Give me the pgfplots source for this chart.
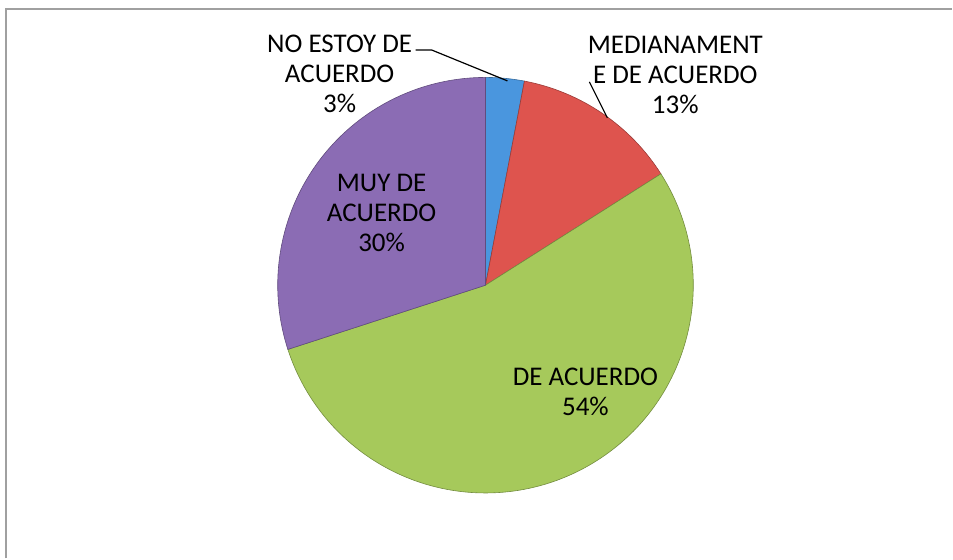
\documentclass[border=0pt]{standalone}
\usepackage{pgfplots}
\usepackage{pgfplotstable}
\pgfplotsset{compat=1.18}
\usepackage{fontspec}
\setmainfont{Carlito}
\pgfkeys{/pgf/number format/assume math mode=true}
\definecolor{cBlue}{RGB}{74,150,222}
\definecolor{cRed}{RGB}{222,84,78}
\definecolor{cGreen}{RGB}{166,201,91}
\definecolor{cPurple}{RGB}{139,108,180}
\definecolor{frame}{RGB}{160,160,160}
\pgfplotstableread{
label value
NoEstoy 3
Medianamente 13
DeAcuerdo 54
Muy 30
}\piedata
\pgfplotstablegetelem{0}{value}\of\piedata \pgfmathsetmacro{\vA}{\pgfplotsretval}
\pgfplotstablegetelem{1}{value}\of\piedata \pgfmathsetmacro{\vB}{\pgfplotsretval}
\pgfplotstablegetelem{2}{value}\of\piedata \pgfmathsetmacro{\vC}{\pgfplotsretval}
\pgfplotstablegetelem{3}{value}\of\piedata \pgfmathsetmacro{\vD}{\pgfplotsretval}
\pgfmathsetmacro{\aA}{90}
\pgfmathsetmacro{\aB}{\aA-3.6*\vA}
\pgfmathsetmacro{\aC}{\aB-3.6*\vB}
\pgfmathsetmacro{\aD}{\aC-3.6*\vC}
\pgfmathsetmacro{\aE}{\aD-3.6*\vD}
\begin{document}
\begin{tikzpicture}
\begin{axis}[
  at={(0,0)}, anchor=origin,
  width=953bp, height=559bp, scale only axis,
  xmin=0, xmax=953, ymin=0, ymax=559,
  hide axis, clip=false,
]
\path (axis cs:0,0) rectangle (axis cs:953,559);
% frame
\draw[frame, line width=2bp] (axis cs:6,0) -- (axis cs:6,550) -- (axis cs:953,550);
% slices
\fill[cBlue, draw=cBlue!70!black, line width=0.6bp] (axis cs:486,273.5) -- ++(\aA:208bp) arc[start angle=\aA, end angle=\aB, radius=208bp] -- cycle;
\fill[cRed, draw=cRed!70!black, line width=0.6bp] (axis cs:486,273.5) -- ++(\aB:208bp) arc[start angle=\aB, end angle=\aC, radius=208bp] -- cycle;
\fill[cGreen, draw=cGreen!70!black, line width=0.6bp] (axis cs:486,273.5) -- ++(\aC:208bp) arc[start angle=\aC, end angle=\aD, radius=208bp] -- cycle;
\fill[cPurple, draw=cPurple!70!black, line width=0.6bp] (axis cs:486,273.5) -- ++(\aD:208bp) arc[start angle=\aD, end angle=\aE, radius=208bp] -- cycle;
% leader lines
\draw[black, line width=1.2bp] (axis cs:416,509) -- (axis cs:432,509) -- (axis cs:508,478);
\draw[black, line width=1.2bp] (axis cs:590,477) -- (axis cs:608,441);
% labels
\begin{scope}[every node/.style={align=center, font=\fontsize{27bp}{30bp}\selectfont, inner sep=0pt}]
\node at (axis cs:340,485) {NO ESTOY DE\\ACUERDO\\\pgfmathprintnumber{\vA}\%};
\node at (axis cs:676,484) {MEDIANAMENT\\E DE ACUERDO\\\pgfmathprintnumber{\vB}\%};
\node at (axis cs:586,166.5) {DE ACUERDO\\\pgfmathprintnumber{\vC}\%};
\node at (axis cs:382,346) {MUY DE\\ACUERDO\\\pgfmathprintnumber{\vD}\%};
\end{scope}
\end{axis}
\useasboundingbox (0,0) rectangle (953bp,559bp);
\end{tikzpicture}
\end{document}
